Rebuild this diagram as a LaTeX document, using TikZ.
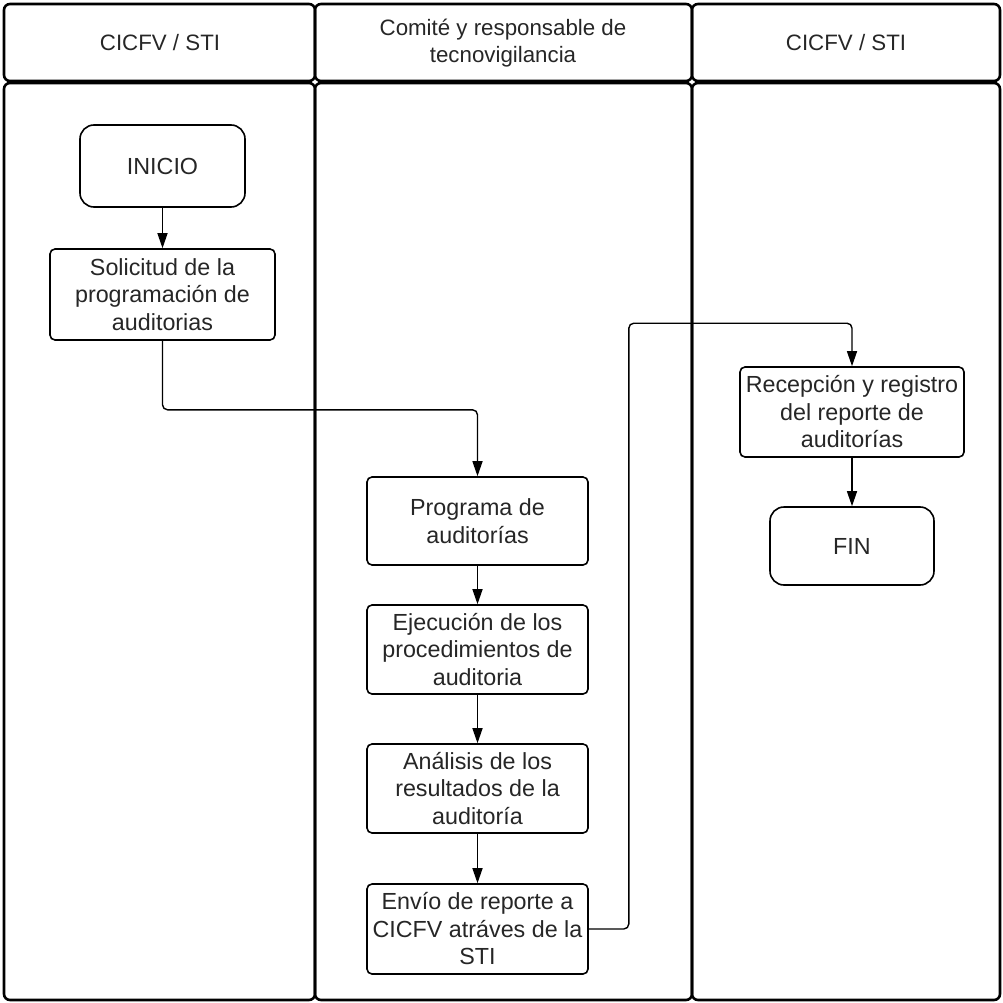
\documentclass[tikz,border=0pt]{standalone}
\usepackage{fontspec}
\setmainfont{Liberation Sans}
\usetikzlibrary{arrows.meta}
\begin{document}
\begin{tikzpicture}[x=1pt,y=-1pt,
  lane/.style={draw, line width=2.6pt, rounded corners=6pt},
  proc/.style={draw, line width=1.6pt, rounded corners=5pt, align=center,
    font=\fontsize{23.3}{27.5}\selectfont, inner sep=0pt, text=black!85},
  term/.style={proc, rounded corners=14pt},
  flow/.style={line width=1.4pt, rounded corners=5pt,
    -{Triangle[length=15pt,width=10pt]}},
  head/.style={align=center, font=\fontsize{22.3}{27}\selectfont, text=black!85}]
\useasboundingbox (0,0) rectangle (1003,1003);

% swimlane headers
\draw[lane] (4,4) rectangle (315,81);
\draw[lane] (315,4) rectangle (692,81);
\draw[lane] (692,4) rectangle (1000,81);
% swimlane bodies
\draw[lane] (4,83) rectangle (315,1000);
\draw[lane] (315,83) rectangle (692,1000);
\draw[lane] (692,83) rectangle (1000,1000);

\node[head] (h1) at (160,43) {CICFV / STI};
\node[head] (h2) at (503,43) {Comité y responsable de\\tecnovigilancia};
\node[head] (h3) at (846,43) {CICFV / STI};

% steps
\node[term, minimum width=165, minimum height=82] (inicio) at (162.5,166) {INICIO};
\node[proc, minimum width=225, minimum height=91] (solic) at (162.5,294.5)
  {Solicitud de la\\programación de\\auditorias};
\node[proc, minimum width=221, minimum height=88] (prog) at (477.5,521)
  {Programa de\\auditorías};
\node[proc, minimum width=221, minimum height=89] (ejec) at (477.5,649.5)
  {Ejecución de los\\procedimientos de\\auditoria};
\node[proc, minimum width=221, minimum height=89] (anal) at (477.5,788.5)
  {Análisis de los\\resultados de la\\auditoría};
\node[proc, minimum width=221, minimum height=90] (envio) at (477.5,929)
  {Envío de reporte a\\CICFV atráves de la\\STI};
\node[proc, minimum width=224, minimum height=90] (recep) at (852,412)
  {Recepción y registro\\del reporte de\\auditorías};
\node[term, minimum width=164, minimum height=78] (fin) at (852,546) {FIN};

% connectors
\draw[flow] (inicio) -- (solic);
\draw[flow] (solic.south) -- ++(0,69) -| (prog.north);
\draw[flow] (prog) -- (ejec);
\draw[flow] (ejec) -- (anal);
\draw[flow] (anal) -- (envio);
\draw[flow] (envio.east) -- ++(40,0) |- ([yshift=43pt]recep.north) -- (recep.north);
\draw[flow] (recep) -- (fin);
\end{tikzpicture}
\end{document}
